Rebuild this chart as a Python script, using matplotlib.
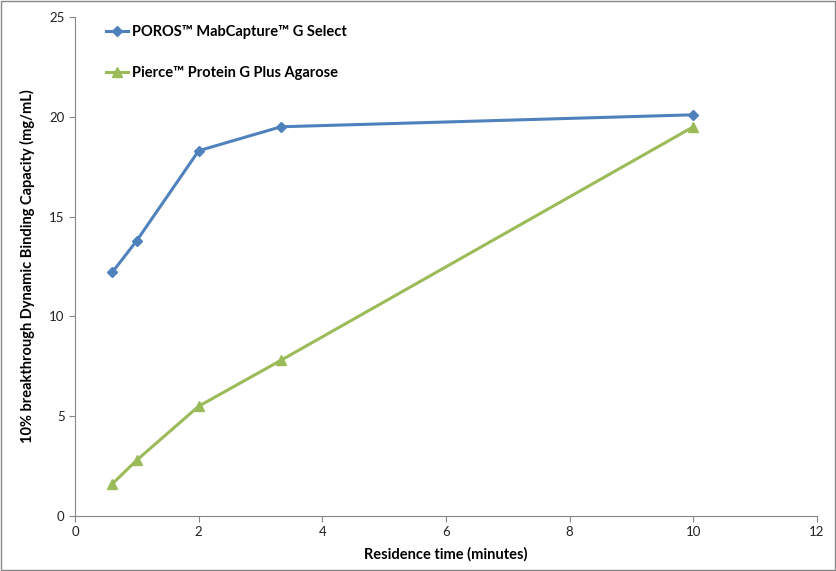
import matplotlib
matplotlib.use("Agg")
import matplotlib.pyplot as plt

x_vals = [0.6, 1.0, 2.0, 3.33, 10.0]
poros = [12.2, 13.8, 18.3, 19.5, 20.1]
pierce = [1.6, 2.8, 5.5, 7.8, 19.5]
series_names = ["POROS\u2122 MabCapture\u2122 G Select", "Pierce\u2122 Protein G Plus Agarose"]
x_ticks = [0, 2, 4, 6, 8, 10, 12]
y_ticks = [0, 5, 10, 15, 20, 25]

plt.rcParams['font.family'] = ['Lato', 'DejaVu Sans']

fig = plt.figure(figsize=(8.36, 5.71), dpi=100)
ax = fig.add_axes([75/836, 55/571, (817-75)/836, (516-17)/571])

ax.plot(x_vals, poros, color='#4F81BD', lw=2.2, marker='D', ms=5.5, label=series_names[0])
ax.plot(x_vals, pierce, color='#9BBB59', lw=2.2, marker='^', ms=7.5, label=series_names[1])

ax.set_xlim(0, 12)
ax.set_ylim(0, 25)
ax.set_xticks(x_ticks)
ax.set_yticks(y_ticks)
for s in ['top', 'right']:
    ax.spines[s].set_visible(False)
for s in ['left', 'bottom']:
    ax.spines[s].set_color('#868686')
ax.tick_params(direction='out', length=4, color='#868686', labelsize=9.5, labelcolor='#222222')

ax.set_xlabel('Residence time (minutes)', fontsize=10.5, fontweight='bold', labelpad=6)
ax.set_ylabel('10% breakthrough Dynamic Binding Capacity (mg/mL)', fontsize=10.5, fontweight='bold', labelpad=10)

leg = ax.legend(loc='upper left', bbox_to_anchor=(0.024, 1.011), frameon=False,
                prop={'weight': 'bold', 'size': 10.5}, labelspacing=1.9,
                handlelength=1.5, handletextpad=0.3)

fig.patches.append(matplotlib.patches.Rectangle((0.001, 0.001), 0.998, 0.997, transform=fig.transFigure,
                                                fill=False, edgecolor='#868686', lw=1))

fig.savefig('out.png', dpi=100)
